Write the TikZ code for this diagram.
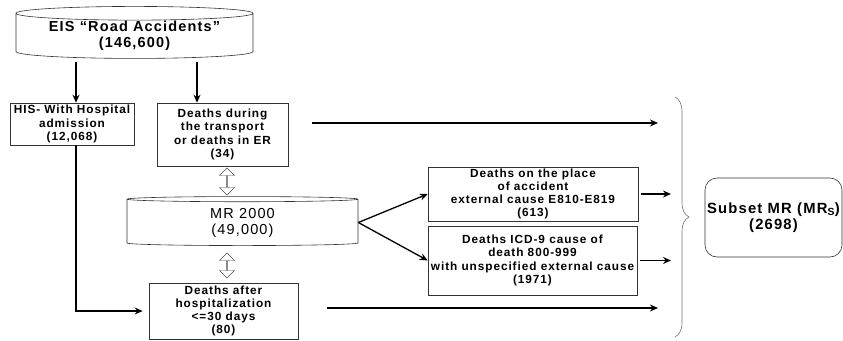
\documentclass[tikz,border=0pt]{standalone}
\usepackage{fontspec}
\setmainfont[LetterSpace=8]{Liberation Sans}
\usetikzlibrary{shapes.geometric,shapes.arrows,decorations.pathreplacing,arrows.meta}

\begin{document}
\begin{tikzpicture}[x=1pt,y=-1pt,>={Stealth[length=8pt,width=7pt]},
	box/.style={draw=black!80,line width=0.6pt,align=center,inner sep=1pt,font=\fontsize{11.8}{13.2}\selectfont\bfseries},
	drum/.style={cylinder,shape border rotate=90,aspect=0.08,draw=black!80,line width=0.6pt,align=center,inner sep=0pt},
	link/.style={double arrow,rotate=90,draw=black!70,fill=white,inner sep=0pt,minimum width=15pt,double arrow head extend=4.5pt},
	flow/.style={->,line width=1.3pt}]
		\useasboundingbox (0,0) rectangle (843,340);
		% sources
		\node[drum,minimum width=237pt,minimum height=52pt,font=\fontsize{14.5}{16}\selectfont\bfseries] (eis) at (134.5,36) {EIS “Road Accidents”\\(146,600)};
		\node[drum,minimum width=231pt,minimum height=49pt,font=\fontsize{14.5}{16}\selectfont] (mr) at (242.5,222.5) {MR 2000\\(49,000)};
		% boxes
		\node[box,minimum width=124pt,minimum height=42pt] (his) at (72,124) {HIS- With Hospital\\admission\\(12,068)};
		\node[box,minimum width=131pt,minimum height=63pt] (ride) at (222.5,134.5) {Deaths during\\the transport\\or deaths in ER\\(34)};
		\node[box,minimum width=149pt,minimum height=56pt] (after) at (223.5,311) {Deaths after\\hospitalization\\<=30 days\\(80)};
		\node[box,minimum width=210pt,minimum height=54pt] (place) at (533,194) {Deaths on the place\\of accident\\external cause E810-E819\\(613)};
		\node[box,minimum width=209pt,minimum height=69pt] (icd) at (532.5,260.5) {Deaths ICD-9 cause of\\death 800-999\\with unspecified external cause\\(1971)};
		\node[draw=black!80,line width=0.6pt,rounded corners=12pt,align=center,minimum width=137pt,minimum height=79pt,inner sep=0pt,font=\fontsize{14.8}{15.5}\selectfont\bfseries] (subset) at (773.5,217.5) {Subset MR (MR\textsubscript{S})\\(2698)};
		% links to MR 2000
		\node[link,minimum height=27pt] (up) at (227,181.5) {};
		\node[link,minimum height=25pt] (down) at (227,265.5) {};
		% brace
		\coordinate (bt) at (675,97);
		\coordinate (bb) at (675,337);
		\draw[draw=black!55,line width=0.6pt,decorate,decoration={brace,amplitude=14pt}] (bt) -- (bb);
		% arrows
		\coordinate (e1) at (76,0);
		\coordinate (e2) at (197,0);
		\coordinate (lim) at (658,0);
		\coordinate (lim2) at (671,0);
		\draw[flow,shorten <=3pt] (e1 |- eis.south) -- (e1 |- his.north);
		\draw[flow,shorten <=3pt] (e2 |- eis.south) -- (e2 |- ride.north);
		\draw[flow,shorten >=6pt] (e1 |- his.south) |- (after.west);
		\draw[flow] (mr.east) -- (place.west);
		\draw[flow] (mr.east) -- (icd.west);
		\foreach \n in {place,icd}{
			\draw[flow,shorten <=3pt] (\n.east) -- (\n.east -| lim2);
		}
		\coordinate (r1) at ([yshift=11.5pt]ride.east);
		\coordinate (r2) at ([yshift=3pt]after.east);
		\draw[flow,shorten <=24pt] (r1) -- (r1 -| lim);
		\draw[flow,shorten <=29pt] (r2) -- (r2 -| lim);
	\end{tikzpicture}
\end{document}
